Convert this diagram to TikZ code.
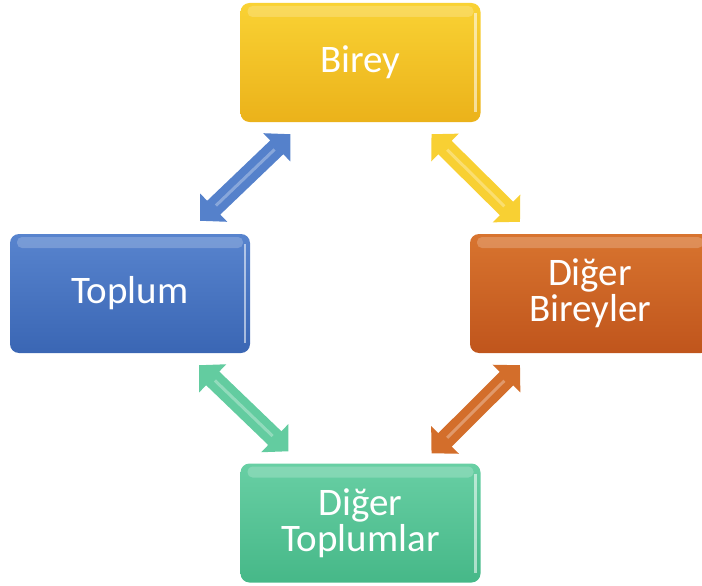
\documentclass[tikz,border=0pt]{standalone}
\usepackage{fontspec}
\setmainfont{Carlito}
\usetikzlibrary{arrows.meta,positioning}
\definecolor{birtop}{HTML}{F9D234}
\definecolor{birbot}{HTML}{EBB21A}
\definecolor{toptop}{HTML}{5884CE}
\definecolor{topbot}{HTML}{3A66B4}
\definecolor{dbtop}{HTML}{D8742F}
\definecolor{dbbot}{HTML}{C0551C}
\definecolor{dttop}{HTML}{68CFA4}
\definecolor{dtbot}{HTML}{46B888}
\tikzset{
  box/.style={rounded corners=9pt, minimum width=240pt, minimum height=119pt, inner sep=0pt,
    text=white, align=center, font=\fontsize{39}{36}\selectfont,
    path picture={
      \fill[white, opacity=0.2, rounded corners=5pt]
        ([xshift=7pt,yshift=-3pt]path picture bounding box.north west) rectangle
        ([xshift=-7pt,yshift=-14pt]path picture bounding box.north east);
      \draw[white, opacity=0.55, line width=2.5pt]
        ([xshift=-5pt,yshift=-10pt]path picture bounding box.north east) --
        ([xshift=-5pt,yshift=10pt]path picture bounding box.south east);
    }},
  dblarr/.style={draw=#1, line width=19pt,
    {Triangle[width=38pt,length=19pt,fill=#1]}-{Triangle[width=38pt,length=19pt,fill=#1]},
    postaction={draw=white, opacity=0.3, line width=3pt, -, shorten >=22pt, shorten <=22pt}}
}

\begin{document}
\begin{tikzpicture}[x=1pt,y=-1pt]
\useasboundingbox (0,0) rectangle (702,586);

% ---------------- Boxes ----------------
\node[box, top color=birtop, bottom color=birbot] (birey) at (360.5,62.5) {Birey};
\node[box, top color=toptop, bottom color=topbot] (toplum) at (130,293.5) {Toplum};
\node[box, top color=dbtop, bottom color=dbbot] (dbireyler) at (590,293.5) {Diğer\\Bireyler};
\node[box, top color=dttop, bottom color=dtbot] (dtoplum) at (360.5,523) {Diğer\\Toplumlar};

% ---------------- Double arrows ----------------
\draw[dblarr=toptop!90!topbot] ([shift={(70,-13)}]toplum.north) -- ([shift={(-70,12)}]birey.south);
\draw[dblarr=birtop!95!birbot] ([shift={(71,12)}]birey.south) -- ([shift={(-70,-12)}]dbireyler.north);
\draw[dblarr=dbtop!80!dbbot] ([shift={(-70,12)}]dbireyler.south) -- ([shift={(71,-10)}]dtoplum.north);
\draw[dblarr=dttop!85!dtbot] ([shift={(69,12)}]toplum.south) -- ([shift={(-72,-12)}]dtoplum.north);

\end{tikzpicture}
\end{document}
